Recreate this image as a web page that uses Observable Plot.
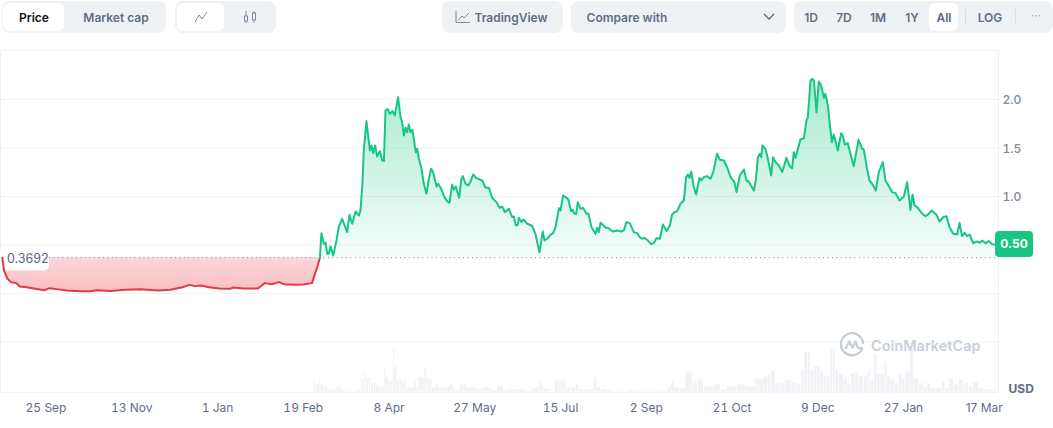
<!DOCTYPE html>
<html>
<head>
<meta charset="utf-8">
<script src="https://cdn.jsdelivr.net/npm/d3@7"></script>
<script src="https://cdn.jsdelivr.net/npm/@observablehq/plot@0.6"></script>
<style>
html,body{margin:0;padding:0;background:#fff;overflow:hidden;width:1053px;height:428px;font-family:Inter,sans-serif}
#bar{position:relative;height:50px;width:1053px;font-size:12px;font-weight:600;color:#616e85}
#bar div,#bar span,#bar svg.i{position:absolute}
.g{background:#eff2f5;border-radius:8px;top:1px;height:32px}
.w{background:#fff;border-radius:6px;top:3px;height:28px}
.t{top:2px;line-height:32px;transform:translateX(-50%);white-space:nowrap}
#wrap{position:relative;width:1053px;height:378px}
#wm{position:absolute;left:839px;top:282px;display:flex;align-items:center;gap:6px;color:#c9cfd9;font-size:14.5px;font-weight:600;letter-spacing:0}
svg{display:block}
</style>
</head>
<body>
<div id="bar">
  <div class="g" style="left:2px;width:164px"></div><div class="w" style="left:3px;width:61px"></div>
  <span class="t" style="left:34px;color:#0d1421">Price</span><span class="t" style="left:116px">Market cap</span>
  <div class="g" style="left:175px;width:101px"></div><div class="w" style="left:177px;width:47px"></div>
  <svg class="i" style="left:194px;top:10px" width="14" height="14" fill="none" stroke="#808a9d" stroke-width="1"><path d="M1 12L5 5L8 9L13 2"/></svg>
  <svg class="i" style="left:243px;top:10px" width="14" height="14" fill="none" stroke="#808a9d" stroke-width="1"><path d="M3 1V13M11 1V13"/><rect x="1.5" y="6" width="3" height="5" fill="#eff2f5"/><rect x="9.5" y="3" width="3" height="7" fill="#eff2f5"/></svg>
  <div class="g" style="left:442px;width:121px"></div>
  <svg class="i" style="left:455px;top:10px" width="16" height="14" fill="none" stroke="#808a9d" stroke-width="1"><path d="M1 1V12.5H15M3 10.5L7 6L9 8L14 3"/></svg>
  <span class="t" style="left:511px">TradingView</span>
  <div class="g" style="left:571px;width:215px"></div>
  <span class="t" style="left:627px">Compare with</span>
  <svg class="i" style="left:763px;top:13px" width="12" height="8" fill="none" stroke="#58667e" stroke-width="1.3"><path d="M1 1L6 6L11 1"/></svg>
  <div class="g" style="left:794px;width:259px"></div><div class="w" style="left:929px;width:29px"></div>
  <span class="t" style="left:811px">1D</span><span class="t" style="left:844px">7D</span><span class="t" style="left:878px">1M</span><span class="t" style="left:912px">1Y</span><span class="t" style="left:944px;color:#58667e">All</span>
  <div style="left:965px;top:9px;width:1px;height:16px;background:#d8dde5"></div>
  <span class="t" style="left:990px">LOG</span>
  <div style="left:1015px;top:9px;width:1px;height:16px;background:#d8dde5"></div>
  <span class="t" style="left:1036px;top:0;color:#a6b0c3;font-weight:400">···</span>
</div>
<div id="wrap"></div>
<script>
const startDate = Date.UTC(2023, 7, 30);
const baseline = 0.3692;
const lastLabel = "0.50";

const redDays = [1,2,4,6,9,11,15,19,25,28,32,38,46,51,55,63,71,80,90,97,104,108,111,115,119,125,131,133,139,147,151,155,159,162,168,173,178,180,181,182.5];
const redPrices = [.369,.237,.151,.117,.107,.072,.065,.052,.034,.055,.045,.031,.024,.024,.034,.027,.038,.045,.031,.038,.065,.089,.076,.082,.065,.052,.048,.062,.052,.052,.107,.096,.117,.096,.089,.093,.107,.22,.272,.369];

const greenDays = [182.5,183.4,184.8,185.7,186.7,187.6,188.6,190.1,192,193.3,195.2,198.1,199.4,201,202.9,204.8,205.7,206.7,207.6,209.1,211.1,212,213,214.1,215.2,216.8,218.1,219.1,220,221.3,222.5,224,225.3,227.2,228.6,229.5,230.5,231.4,232.4,233.3,234.3,235.4,237.3,238.1,239.1,240.6,241.9,243.4,244.8,246.1,247.2,249.2,250.1,251.8,253.7,255.2,256.6,258.1,259.1,260.2,262.1,263.3,264.2,265.7,267.3,268.6,270.1,271.8,275.3,277.2,279.1,281,283.4,285.2,286.7,288.2,290.5,292.4,293.4,294.5,295.6,296.2,297.7,298.9,301,303.8,305.7,306.7,308,309.9,310.9,312.4,314.3,315.8,317.2,319.1,320,321.5,322.9,324.4,326.1,327.1,328,329,329.9,331.4,332.8,334.9,336,337.7,340,341,341.9,342.9,344.8,345.7,347.1,349.9,352.8,354.7,356.2,357.7,359.6,361.9,363.8,365.3,366.7,368,369.9,371.8,373.3,374.9,376.8,378.5,380.6,382.5,383.8,385.2,386.7,388.6,390.5,391.8,392.8,393.7,394.7,396.2,397.5,399.4,400.4,401.9,403.8,405.7,407.3,409.5,411.1,413.4,415.3,417.2,419.4,420.6,422.5,424.8,426.3,427.6,429,430.5,431.6,432.8,433.9,434.7,435.4,437.2,438.5,440.4,441.5,442.9,444.8,446.7,449.1,451,452.4,453.3,454.3,457.1,459.1,460.6,461.3,462.9,463.8,464.8,466.3,467.6,469,470.5,471.4,472.8,473.9,475.1,476.2,478.5,480.4,481.3,482.5,484.2,485.7,487.6,490.3,492.4,493.3,495.2,496.6,498.1,500.2,501.9,504.2,505.7,508,509.5,511.4,513.7,516.2,518.1,520,521.2,522.3,524.2,526.7,528.6,530.1,532,534.9,536.6,538.7,540.6,542.3,544.4,546.7,548,549.5,550.9,552.4,553.9,555.8,558.1,559.6,561,562.9,564.8,566.7,568.6];
const greenPrices = [.369,.622,.512,.523,.409,.409,.488,.392,.547,.684,.77,.633,.811,.719,.846,.804,.856,1.096,1.474,1.777,1.474,1.526,1.447,1.526,1.413,1.468,1.371,1.365,1.887,1.901,1.852,1.88,1.835,2.024,1.818,1.766,1.629,1.708,1.663,1.742,1.663,1.687,1.457,1.492,1.389,1.285,1.131,1.028,1.182,1.285,1.251,1.103,1.131,1.079,.993,.952,.935,1.124,1.069,1.103,.986,1.172,1.21,1.131,1.114,1.155,1.227,1.189,1.165,1.09,1.09,.986,.942,.883,.897,.839,.873,.787,.794,.701,.708,.78,.736,.763,.719,.698,.615,.529,.426,.639,.546,.564,.608,.622,.684,.88,.856,1.01,.993,.973,.849,.863,.821,.821,.942,.873,.883,.821,.821,.684,.615,.677,.632,.729,.701,.677,.677,.639,.65,.639,.65,.736,.725,.632,.622,.581,.564,.574,.547,.509,.519,.571,.564,.711,.643,.701,.815,.839,.849,.925,.959,1.199,1.227,1.192,1.258,1.096,1.021,1.192,1.165,1.199,1.21,1.182,1.251,1.44,1.378,1.371,1.296,1.199,1.148,1.045,1.217,1.278,1.165,1.155,1.107,1.062,1.165,1.405,1.44,1.405,1.526,1.485,1.388,1.217,1.405,1.354,1.32,1.251,1.399,1.313,1.292,1.457,1.399,1.588,1.601,1.784,1.811,2.196,2.213,2.196,1.869,2.186,2.144,2.017,2.058,1.938,1.749,1.56,1.639,1.474,1.653,1.629,1.536,1.55,1.44,1.313,1.584,1.492,1.485,1.285,1.165,1.131,1.062,1.251,1.354,1.165,1.096,1.045,1.035,.959,1,1.148,.863,1.017,.907,.883,.822,.797,.815,.856,.811,.742,.787,.797,.684,.615,.608,.728,.591,.626,.591,.608,.519,.536,.523,.547,.519,.54,.508,.505];

const volumeDays = [179,180,181,182.3,183.2,184.8,186.3,187.6,189.5,191.4,192.7,194.3,196.2,199,201.9,203.8,206.1,207.1,208.2,209.1,210.5,211.8,213.3,214.8,216.8,218.1,219.4,220.5,221.9,223.2,224.4,225.3,226.7,228.2,229.5,230.9,232.4,234.3,236.2,237.7,239,241,242.3,243.8,245.1,246.7,248.6,250.5,252.4,254.3,255.6,257.1,258.6,260,262.5,264.8,266.3,268.6,270.5,272.4,275.2,277.1,279,281,283.8,285.7,287.6,290.5,293.3,296.2,299,301,303.8,305.7,307.6,308.9,310.5,313.3,315.2,317.1,319,320.9,322.3,323.8,326.1,328.8,330.5,333.3,336.2,339,340.6,342.9,346.7,349.5,352.4,355.2,359,361.9,365.7,369.5,373.3,376.2,378.1,381,383.4,385.1,387.6,391.5,395.3,398.5,401.9,407.7,411.5,415.3,421,425.7,431.5,433.4,436.2,438.5,440.4,442.9,445.8,448.6,452.4,455.3,457.6,459.5,461.4,462.9,464.8,466.7,468.6,470.5,472.4,474.3,475.7,477.2,479.1,482,483.9,486.1,488.6,490.5,493.4,495.7,497.2,499.3,501,502.9,505.2,506.7,508.6,510.9,513.4,515.3,517.2,520,522,524.8,527.7,529.6,531.5,534.3,538.2,540,542.1,544.8,547.7,550.5,553.4,555.9,559.1,562,564.8,567.6,569];
const volumes = [12,8,8,15,8,6,4,3,2,4,6,3,1,1,1,2,13,13,20,14,15,9,10,6,5,5,25,15,11,12,44,26,12,13,11,12,5,5,11,5,15,15,25,14,13,5,8,5,5,5,6,9,5,2,8,9,5,6,5,3,5,5,4,2,6,7,2,3,3,3,2,1,4,5,11,7,4,3,1,12,11,13,10,4,5,8,3,3,3,15,5,3,2,1,1,1,2,1,1,1,1,3,2,4,11,5,4,20,9,13,6,8,3,6,8,6,14,13,16,18,21,9,9,12,10,9,23,41,41,23,27,26,21,16,16,43,44,23,19,14,9,19,21,16,16,21,13,38,18,18,31,16,13,9,19,14,21,44,14,9,6,9,4,4,11,4,14,8,13,9,6,10,4,3,3,2,1];

const tickDates = ["2023-09-25","2023-11-13","2024-01-01","2024-02-19","2024-04-08","2024-05-27","2024-07-15","2024-09-02","2024-10-21","2024-12-09","2025-01-27"];
const tickLabels = ["25 Sep","13 Nov","1 Jan","19 Feb","8 Apr","27 May","15 Jul","2 Sep","21 Oct","9 Dec","27 Jan"];
const endTickDate = "2025-03-17";
const endTickLabel = "17 Mar";
const gridValues = [-0.5,0,0.5,1,1.5,2];
const priceTicks = [1,1.5,2];

const toDate = d => new Date(startDate + d * 864e5);
const red = redDays.map((d,i)=>({date:toDate(d),price:redPrices[i]}));
const green = greenDays.map((d,i)=>({date:toDate(d),price:greenPrices[i]}));
const yMin = -1.0206, yMax = 2.505;
const volUnit = 1/97;
const volume = volumeDays.slice(0,-1).map((d,i)=>({x1:toDate(d),x2:toDate(volumeDays[i+1]),v:volumes[i]}));
const xEnd = toDate(570.3);
const parsed = tickDates.map(s=>new Date(s+"T00:00:00Z"));
const labelOf = new Map(parsed.map((d,i)=>[+d,tickLabels[i]]));

const defs = () => {
  const g = d3.create("svg:defs");
  g.html(`<linearGradient id="gg" x1="0" y1="0" x2="0" y2="1"><stop offset="0" stop-color="#16c784" stop-opacity=".38"/><stop offset="1" stop-color="#16c784" stop-opacity=".04"/></linearGradient>
  <linearGradient id="rg" x1="0" y1="0" x2="0" y2="1"><stop offset="0" stop-color="#ea3943" stop-opacity=".2"/><stop offset="1" stop-color="#ea3943" stop-opacity=".32"/></linearGradient>`);
  return g.node();
};
const baseChip = (i, s) => {
  const g = d3.create("svg:g");
  const yy = s.y(baseline);
  g.append("rect").attr("x",-6).attr("y",yy-7).attr("width",55).attr("height",20).attr("rx",5).attr("fill","#fff");
  g.append("text").attr("x",7).attr("y",yy+2).attr("dy","0.32em").attr("text-anchor","start").attr("fill","#58667e").attr("font-size",12.5).attr("font-family","Inter,sans-serif").text(baseline);
  return g.node();
};
const lastChip = (i, s) => {
  const g = d3.create("svg:g");
  const last = green[green.length-1];
  const xx = s.x(last.date), yy = s.y(last.price);
  g.append("rect").attr("x",xx).attr("y",yy-13).attr("width",38).attr("height",26).attr("rx",4).attr("fill","#16c784");
  g.append("text").attr("x",xx+19).attr("y",yy).attr("dy","0.32em").attr("text-anchor","middle").attr("fill","#fff").attr("font-size",12).attr("font-weight",700).attr("font-family","Inter,sans-serif").text(lastLabel);
  return g.node();
};

const chart = Plot.plot({
  width:1053, height:378,
  marginTop:0, marginRight:55, marginBottom:36, marginLeft:0,
  style:{fontFamily:"Inter,sans-serif",background:"transparent",overflow:"visible"},
  x:{type:"utc",domain:[toDate(0),xEnd]},
  y:{domain:[yMin,yMax]},
  marks:[
    defs,
    Plot.ruleY(gridValues,{stroke:"#eff2f5",strokeWidth:1}),
    Plot.ruleY([yMax,yMin],{stroke:"#eff2f5",strokeWidth:1}),
    Plot.ruleX([toDate(0),xEnd],{stroke:"#eff2f5",strokeWidth:1}),
    Plot.rectY(volume,{x1:"x1",x2:"x2",y1:()=>yMin,y2:d=>yMin+d.v*volUnit,fill:"#f0f2f6",inset:0.3}),
    Plot.areaY(red,{x:"date",y1:()=>baseline,y2:"price",fill:"url(#rg)"}),
    Plot.areaY(green,{x:"date",y1:()=>baseline,y2:"price",fill:"url(#gg)"}),
    baseChip,
    Plot.ruleY([baseline],{x1:()=>toDate(28),x2:()=>xEnd,stroke:"#808a9d",strokeDasharray:"1,3.5",strokeWidth:1}),
    Plot.line(red,{x:"date",y:"price",stroke:"#e03a44",strokeWidth:2}),
    Plot.line(green,{x:"date",y:"price",stroke:"#16c784",strokeWidth:2}),
    Plot.axisX({ticks:parsed,tickSize:0,tickPadding:11,tickFormat:d=>labelOf.get(+d),fontSize:12,label:null,fill:"#616e85"}),
    Plot.text([endTickLabel],{x:()=>new Date(endTickDate+"T00:00:00Z"),y:()=>yMin,dx:-5,dy:16,fill:"#616e85",fontSize:12}),
    Plot.axisY({ticks:priceTicks,anchor:"right",tickSize:0,tickPadding:4,tickFormat:".1f",fontSize:12,fontWeight:500,fill:"#808a9d",label:null,dy:1}),
    Plot.text(["USD"],{x:()=>xEnd,y:()=>yMin,dx:10,dy:-3,textAnchor:"start",fill:"#616e85",fontSize:12,fontWeight:700}),
    lastChip
  ]
});
const wrap = document.getElementById("wrap");
wrap.appendChild(chart);
const wm = document.createElement("div");
wm.id = "wm";
wm.innerHTML = `<svg width="26" height="26" viewBox="0 0 26 26" fill="none" stroke="#c9cfd9" stroke-width="2.4"><path d="M23.5 15.5A11 11 0 1 1 24 12"/><path d="M6.5 17L10 9.5L13.5 15.5L16.5 9.5L18.5 15Q20 17.5 23.5 15.5" stroke-linejoin="round"/></svg><span>CoinMarketCap</span>`;
wrap.appendChild(wm);
</script>
</body>
</html>
